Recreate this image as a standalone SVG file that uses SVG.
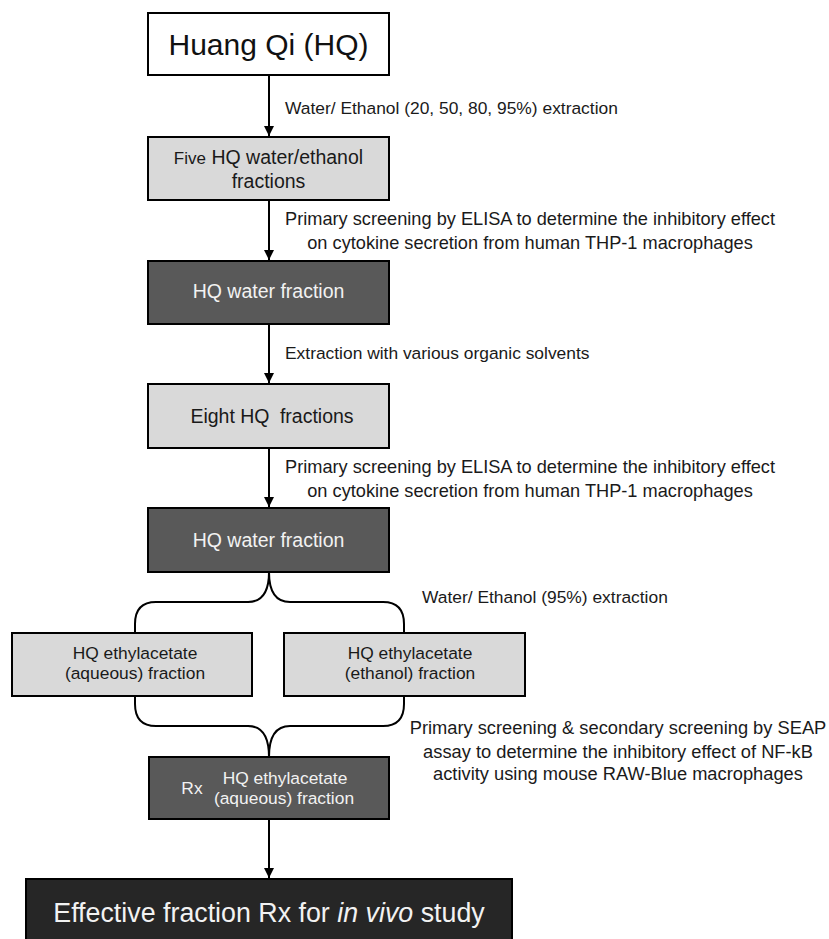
<svg xmlns="http://www.w3.org/2000/svg" width="829" height="939" viewBox="0 0 829 939">
<defs>
<marker id="ah" viewBox="0 0 10 10" refX="10" refY="5" markerWidth="5" markerHeight="5" orient="auto" markerUnits="strokeWidth">
<path d="M0,0 L10,5 L0,10 z" fill="#000"/>
</marker>
<style>
text{font-family:"Liberation Sans",Arial,sans-serif}
.box{stroke:#000;stroke-width:2}
.white{fill:#fff}
.light{fill:#d9d9d9}
.dark{fill:#595959}
.black{fill:#262626}
.lbl{font-size:17.4px;fill:#1a1a1a}
.scr{font-size:18.2px;fill:#1a1a1a;text-anchor:middle}
.seap{font-size:18.3px;fill:#1a1a1a;text-anchor:middle}
.bt{font-size:19.5px;fill:#1a1a1a;text-anchor:middle}
.bs{font-size:17.4px;fill:#1a1a1a;text-anchor:middle}
.wt{fill:#f2f2f2}
.conn{stroke:#000;stroke-width:2;fill:none}
</style>
</defs>
<rect width="829" height="939" fill="#fff"/>
<g id="connectors">
<line class="conn" x1="269" y1="76" x2="269" y2="136" marker-end="url(#ah)"/>
<line class="conn" x1="269" y1="201" x2="269" y2="260" marker-end="url(#ah)"/>
<line class="conn" x1="269" y1="325" x2="269" y2="383" marker-end="url(#ah)"/>
<line class="conn" x1="269" y1="449" x2="269" y2="507" marker-end="url(#ah)"/>
<path class="conn" d="M269,572 C269,592 262,602 248,602 L156,602 C142,602 135,610 135,624 L135,633"/>
<path class="conn" d="M269,572 C269,592 276,602 290,602 L383,602 C397,602 404,610 404,624 L404,633"/>
<path class="conn" d="M135,696 L135,704 C135,718 142,726 156,726 L248,726 C262,726 269,736 269,757"/>
<path class="conn" d="M404,696 L404,704 C404,718 397,726 383,726 L290,726 C276,726 269,736 269,757"/>
<line class="conn" x1="269" y1="820" x2="269" y2="878" marker-end="url(#ah)"/>
<text class="lbl" x="285" y="114">Water/ Ethanol (20, 50, 80, 95%) extraction</text>
<text class="scr" x="530" y="225">Primary screening by ELISA to determine the inhibitory effect</text>
<text class="scr" x="530" y="249">on cytokine secretion from human THP-1 macrophages</text>
<text class="lbl" x="285" y="359">Extraction with various organic solvents</text>
<text class="scr" x="530" y="473">Primary screening by ELISA to determine the inhibitory effect</text>
<text class="scr" x="530" y="497">on cytokine secretion from human THP-1 macrophages</text>
<text class="lbl" x="422" y="603">Water/ Ethanol (95%) extraction</text>
<text class="seap" x="618" y="734">Primary screening &amp; secondary screening by SEAP</text>
<text class="seap" x="618" y="758">assay to determine the inhibitory effect of NF-kB</text>
<text class="seap" x="618" y="780">activity using mouse RAW-Blue macrophages</text>
</g>
<g id="n1">
<rect class="box white" x="148" y="13" width="241" height="62"/>
<text x="268.5" y="55" font-size="30" text-anchor="middle" fill="#111">Huang Qi (HQ)</text>
</g>
<g id="n2">
<rect class="box light" x="148" y="137" width="241" height="63"/>
<text class="bt" x="268.5" y="164"><tspan font-size="17">Five</tspan> HQ water/ethanol</text>
<text class="bt" x="268.5" y="188">fractions</text>
</g>
<g id="n3">
<rect class="box dark" x="148" y="261" width="241" height="63"/>
<text class="bt wt" x="268.5" y="298">HQ water fraction</text>
</g>
<g id="n4">
<rect class="box light" x="148" y="384" width="241" height="64"/>
<text class="bt" x="272" y="423">Eight HQ <tspan dx="5">fractions</tspan></text>
</g>
<g id="n5">
<rect class="box dark" x="148" y="508" width="241" height="64"/>
<text class="bt wt" x="268.5" y="547">HQ water fraction</text>
</g>
<g id="n6">
<rect class="box light" x="12" y="633" width="240" height="63"/>
<text class="bs" x="135" y="659">HQ ethylacetate</text>
<text class="bs" x="135" y="679">(aqueous) fraction</text>
</g>
<g id="n7">
<rect class="box light" x="284" y="633" width="241" height="63"/>
<text class="bs" x="410" y="659">HQ ethylacetate</text>
<text class="bs" x="410" y="679">(ethanol) fraction</text>
</g>
<g id="n8">
<rect class="box dark" x="149" y="757" width="240" height="62"/>
<text class="bs wt" x="192" y="794">Rx</text>
<text class="bs wt" x="285" y="784">HQ ethylacetate</text>
<text class="bs wt" x="284" y="804">(aqueous) fraction</text>
</g>
<g id="n9">
<rect class="box black" x="26" y="879" width="486" height="70"/>
<text x="269" y="922" font-size="26.8" text-anchor="middle" fill="#f2f2f2">Effective fraction Rx for <tspan font-style="italic">in vivo</tspan> study</text>
</g>
</svg>
